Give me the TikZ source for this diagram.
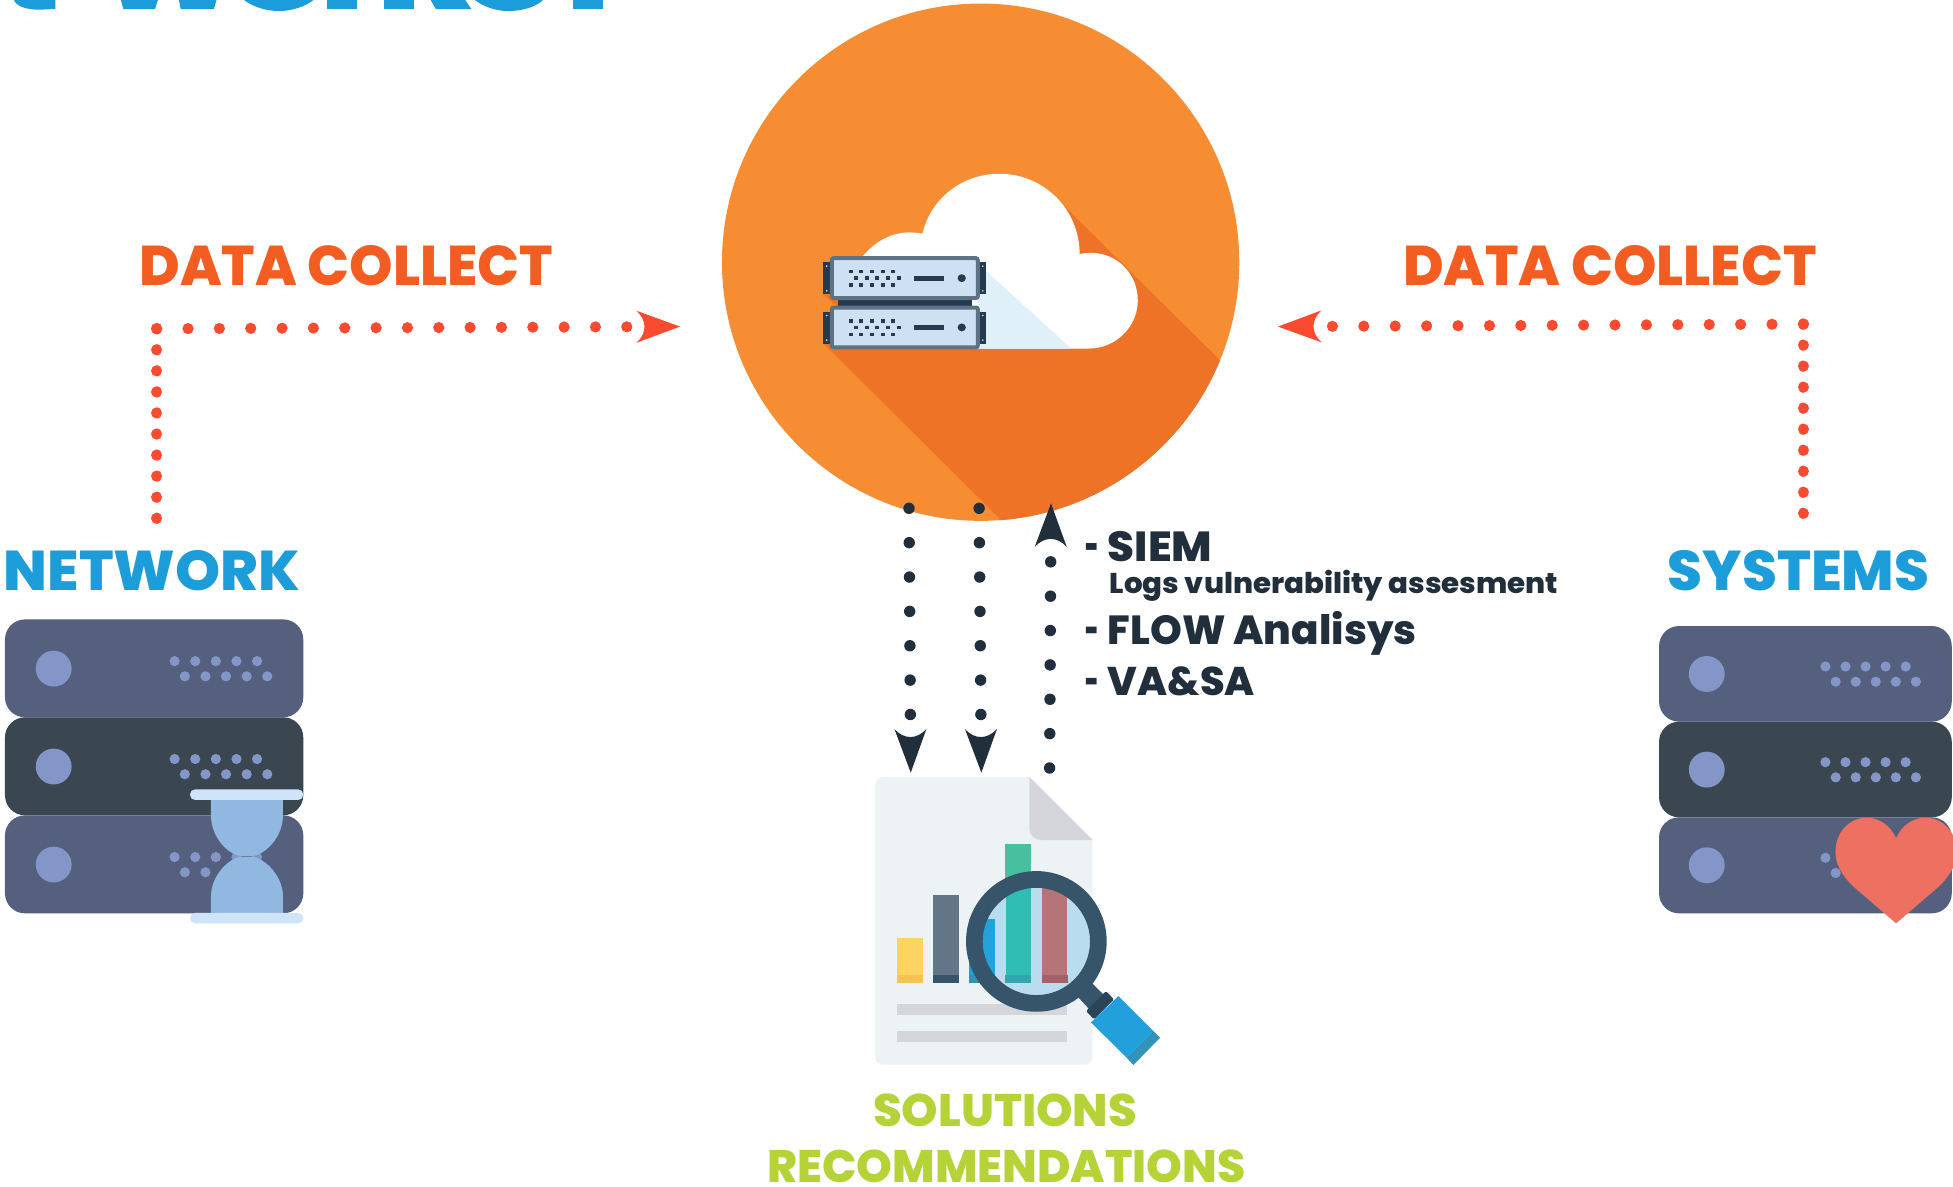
\documentclass[tikz,border=0pt]{standalone}
\usepackage{graphicx}
\usepackage{fontspec}
\setmainfont{Poppins}[UprightFont=* ExtraBold,BoldFont=* ExtraBold]
\usetikzlibrary{arrows.meta}
\definecolor{hubOrange}{HTML}{F78D33}
\definecolor{hubShadow}{HTML}{EF7326}
\definecolor{titleBlue}{HTML}{1C9CD8}
\definecolor{collectOrange}{HTML}{F45D22}
\definecolor{redDot}{HTML}{FA4A30}
\definecolor{inkDark}{HTML}{212F3D}
\definecolor{limeText}{HTML}{B5D336}
\definecolor{rackBlue}{HTML}{55607F}
\definecolor{rackDark}{HTML}{3A4650}
\definecolor{rackLed}{HTML}{8495C8}
\definecolor{plateFill}{HTML}{CEE1F2}
\definecolor{plateEdge}{HTML}{5D7285}
\definecolor{earDark}{HTML}{25394F}
\definecolor{skyTint}{HTML}{DFF0F9}
\definecolor{glassBar}{HTML}{CFE4F8}
\definecolor{glassBody}{HTML}{90B8E0}
\definecolor{heartRed}{HTML}{EE7060}
\definecolor{paper}{HTML}{EDF2F5}
\definecolor{foldGrey}{HTML}{D4D6DB}
\definecolor{ringBlue}{HTML}{36556B}
\definecolor{gripDark}{HTML}{2B4558}
\definecolor{gripBlue}{HTML}{22A0DC}
\definecolor{gripEnd}{HTML}{3193BC}
\definecolor{lensFill}{HTML}{B9DDEE}
\definecolor{barYellow}{HTML}{FDD362}
\definecolor{barYellowB}{HTML}{F7C352}
\definecolor{barSlate}{HTML}{627688}
\definecolor{barBlueB}{HTML}{2E92BC}
\definecolor{barGreen}{HTML}{47C0A0}
\definecolor{lensBlue}{HTML}{22A1DD}
\definecolor{lensTeal}{HTML}{30BDB3}
\definecolor{lensTealB}{HTML}{34A5AE}
\definecolor{lensRose}{HTML}{B57477}
\definecolor{lensRoseB}{HTML}{A56166}
\pgfdeclarearrow{
  name = NotchTip,
  parameters = {\the\pgfarrowlength,\the\pgfarrowwidth},
  setup code = {
    \pgfarrowssettipend{\pgfarrowlength}
    \pgfarrowssetlineend{.1\pgfarrowlength}
    \pgfarrowssetvisualbackend{.1\pgfarrowlength}
    \pgfarrowshullpoint{\pgfarrowlength}{0pt}
    \pgfarrowsupperhullpoint{0pt}{.5\pgfarrowwidth}
    \pgfarrowssavethe\pgfarrowlength
    \pgfarrowssavethe\pgfarrowwidth
  },
  drawing code = {
    \pgfpathmoveto{\pgfqpoint{\pgfarrowlength}{0pt}}
    \pgfpathlineto{\pgfqpoint{0pt}{.5\pgfarrowwidth}}
    \pgfpathcurveto{\pgfqpoint{.245\pgfarrowlength}{.2\pgfarrowwidth}}{\pgfqpoint{.245\pgfarrowlength}{-.2\pgfarrowwidth}}{\pgfqpoint{0pt}{-.5\pgfarrowwidth}}
    \pgfpathclose
    \pgfusepathqfill
  },
  defaults = {length=21.8pt,width=16pt}
}
\newcommand{\fitlabel}[3]{%
  \setbox0=\hbox{\fontsize{#2}{#2}\selectfont #3}%
  \pgfmathsetmacro{\fitratio}{#1*0.62277/\the\wd0}%
  \scalebox{\fitratio}[1]{\box0}}
\newcommand{\rackunit}[9]{%
  \begin{scope}[shift={(#1,#2)}]
    \fill[#5,rounded corners=10pt] (0,0) rectangle (#3,#4);
    \fill[rackLed] (#6,#7) circle (14.4);
    \foreach \i in {0,...,4} {
      \fill[rackLed] ({#8+\i*#9},{#7-6}) circle (4.1);
      \fill[rackLed] ({#8+8.2+\i*#9},{#7+6.2}) circle (4.1);
    }
  \end{scope}}
\tikzset{
  lbl/.style={anchor=base west,inner sep=0pt,outer sep=0pt},
  reddots/.style={draw=redDot,line width=5.6pt,line cap=round},
  darkdots/.style={draw=inkDark,line width=5.7pt,line cap=round,dash pattern=on 0.01pt off 17.17pt},
}
\begin{document}
\begin{tikzpicture}[x=0.62277pt,y=-0.62277pt]
\useasboundingbox (0,0) rectangle (1568,952.2);
\fill[white] (0,0) rectangle (1568,952.2);

% cut-off heading fragments at the top edge
\begin{scope}[xscale=.3175,yscale=.2676]
  \fill[titleBlue] (35,-2) .. controls (38,15) and (60,29) .. (100,29) -- (140,27) -- (140,-2) -- cycle;
  \fill[titleBlue] (305,-2) -- (400,-2) -- (392,27) -- (312,27) -- cycle;
  \fill[titleBlue] (452,-2) -- (548,-2) -- (541,27) -- (457,27) -- cycle;
  \fill[titleBlue] (615,-2) .. controls (640,22) and (675,33) .. (705,33) .. controls (735,33) and (770,22) .. (795,-2) -- cycle;
  \fill[titleBlue] (827,-2) rectangle (903,27);
  \fill[titleBlue] (971,-2) rectangle (1047,27);
  \fill[titleBlue] (1088,-2) -- (1175,-2) -- (1192,27) -- (1102,27) -- cycle;
  \fill[titleBlue] (1198,-2) .. controls (1225,22) and (1255,33) .. (1285,33) .. controls (1320,33) and (1355,22) .. (1375,-2) -- cycle;
  \fill[titleBlue] (1450,-2) rectangle (1526,27);
\end{scope}

% hub circle
\node[circle,fill=hubOrange,minimum size=258.65pt,inner sep=0pt] (hub) at (787.3,210.5) {};
\begin{scope}
  \clip (787.3,210.5) circle (207.7);
  \fill[hubShadow] (661,275.7) -- (802.3,416) -- (802.3,440) -- (1000,440) -- (1000,309.4) -- (854.4,165.4) -- cycle;
\end{scope}
\fill[white] (692.5,206) .. controls (702,194) and (716,186.6) .. (729.7,186.6)
  .. controls (733,186.6) and (737,187) .. (740.6,187.5)
  .. controls (747,160) and (772,139.5) .. (802.3,139.5)
  .. controls (838,139.5) and (866.8,168) .. (866.8,204)
  .. controls (869,203.3) and (873,203) .. (876,203)
  .. controls (897,203) and (913.5,220) .. (913.5,241.2)
  .. controls (913.5,262) and (896,279.8) .. (874.5,279.8)
  -- (680,279.8) -- cycle;
\fill[skyTint] (785,211) -- (791,217) -- (860,279.8) -- (785,279.8) -- cycle;
\fill[hubShadow] (660.6,236.3) -- (672.7,246) -- (672.7,236.3) -- cycle;

% small rack in the hub (coordinates of a 0.2867/0.2757 grid)
\begin{scope}[shift={(562,0)},xscale=.2867,yscale=.2757]
  \fill[earDark] (386,868) rectangle (762,896);
  \foreach \dy in {0,143.5} {
    \begin{scope}[shift={(0,\dy)}]
      \fill[earDark] (344,764) rectangle (365,857);
      \fill[earDark] (782,764) rectangle (801,857);
      \foreach \ex/\ey in {355/775,355/847,792/775,792/847}
        \fill[plateFill] (\ex,\ey) circle (2.6);
      \filldraw[fill=plateFill,draw=plateEdge,line width=2pt,rounded corners=1pt] (369,752) rectangle (778,868);
      \foreach \dx in {422,450,481,512,540} {
        \fill[earDark] ({\dx-5.5},785) rectangle ++(11,11);
        \fill[earDark] ({\dx-5.5},825) rectangle ++(11,11);
      }
      \foreach \dx in {436,467,495,526,557}
        \fill[earDark] ({\dx-5.5},805) rectangle ++(11,11);
      \fill[earDark] (599,803) rectangle (683,817);
      \fill[earDark] (733,810) circle (11.5);
    \end{scope}
  }
\end{scope}

% left rack
\rackunit{4}{497.3}{239.5}{78.6}{rackBlue}{39.1}{39.5}{136.2}{16.55}
\rackunit{4}{575.9}{239.5}{78.7}{rackDark}{39.1}{39.5}{136.2}{16.55}
\rackunit{4}{654.6}{239.5}{78.7}{rackBlue}{39.1}{39.5}{136.2}{16.55}
\begin{scope}[shift={(0,417.5)},scale=.2676]
  \fill[glassBody] (633,840) -- (633,885) .. controls (633,950) and (680,1000) .. (720,1008) -- (760,1008) .. controls (800,1000) and (849,950) .. (849,885) -- (849,840) -- cycle;
  \fill[glassBody] (633,1180) -- (633,1130) .. controls (633,1070) and (680,1020) .. (720,1010) -- (760,1010) .. controls (800,1020) and (849,1070) .. (849,1130) -- (849,1180) -- cycle;
  \fill[glassBar,rounded corners=2.6pt] (570,808) rectangle (910,840);
  \fill[glassBar,rounded corners=2.6pt] (570,1179) rectangle (910,1210);
\end{scope}

% right rack
\rackunit{1332}{502.6}{235}{76.8}{rackBlue}{38.3}{38.5}{133.6}{16.1}
\rackunit{1332}{579.4}{235}{76.8}{rackDark}{38.3}{38.5}{133.6}{16.1}
\rackunit{1332}{656.2}{235}{77.1}{rackBlue}{38.3}{38.5}{133.6}{16.1}
\fill[heartRed] (1522.3,741.3) -- (1488,711.8) .. controls (1478,702) and (1473.6,693) .. (1473.6,684)
  .. controls (1473.6,668) and (1485,656.5) .. (1498.8,656.5)
  .. controls (1509,656.5) and (1518,663) .. (1522.3,673)
  .. controls (1526.6,663) and (1535.6,656.5) .. (1545.8,656.5)
  .. controls (1559.6,656.5) and (1571,668) .. (1571,684)
  .. controls (1571,693) and (1566.6,702) .. (1556.6,711.8) -- cycle;

% report with magnifier
\begin{scope}[shift={(690.5,594.2)},scale=.2676]
  \fill[paper,rounded corners=4pt] (45,600) -- (45,111) [sharp corners] -- (508,111) -- (697,300) [rounded corners=4pt] -- (697,974) -- (45,974) -- cycle;
  \fill[foldGrey] (508,111) -- (697,300) -- (545,300) .. controls (525,300) and (508,285) .. (508,265) -- cycle;
  \fill[foldGrey] (111,792) rectangle (621,825);
  \fill[foldGrey] (111,873) rectangle (621,906);
  \fill[barYellow] (111,594) rectangle (189,705);
  \fill[barYellowB] (111,705) rectangle (189,728);
  \fill[barSlate] (219,465) rectangle (297,705);
  \fill[ringBlue] (219,705) rectangle (297,728);
  \fill[gripBlue] (327,538) rectangle (405,705);
  \fill[barBlueB] (327,705) rectangle (405,728);
  \fill[barGreen] (435,312) rectangle (513,460);
  \fill[ringBlue] (695,728) -- (730,763) -- (692,812) -- (655,772) -- cycle;
  \fill[gripDark,rounded corners=1pt] (738,753) -- (762,778) -- (702,838) -- (678,813) -- cycle;
  \fill[gripBlue] (775,768) -- (880,873) -- (800,953) -- (693,847) -- cycle;
  \fill[gripEnd] (880,873) -- (900,893) -- (820,975) -- (800,953) -- cycle;
  \fill[lensFill] (529,604) circle (165);
  \begin{scope}
    \clip (529,604) circle (165);
    \fill[lensBlue] (327,538) rectangle (405,705);
    \fill[barBlueB] (327,705) rectangle (405,728);
    \fill[lensTeal] (438,400) rectangle (513,705);
    \fill[lensTealB] (435,705) rectangle (513,728);
    \fill[lensRose] (546,400) rectangle (622,705);
    \fill[lensRoseB] (546,705) rectangle (624,728);
  \end{scope}
  \fill[ringBlue,even odd rule] (529,604) circle (211) (529,604) circle (161);
\end{scope}

% text
\node[lbl,text=collectOrange] (collectL) at (112,229) {\fitlabel{332}{28}{DATA COLLECT}};
\node[lbl,text=collectOrange] (collectR) at (1126.5,229) {\fitlabel{332}{28}{DATA COLLECT}};
\node[lbl,text=titleBlue] (network) at (3,473.7) {\fitlabel{238}{28}{NETWORK}};
\node[lbl,text=titleBlue] (systems) at (1339,473.7) {\fitlabel{210}{28}{SYSTEMS}};
\node[lbl,text=limeText] (solutions) at (701,904.5) {\fitlabel{212}{22.8}{SOLUTIONS}};
\node[lbl,text=limeText] (recommend) at (616,949) {\fitlabel{384}{22.8}{RECOMMENDATIONS}};
\node[lbl,text=inkDark] (siem) at (871.5,451) {\fitlabel{11}{21}{-}\hspace{4.3pt}\fitlabel{84}{21}{SIEM}};
\node[lbl,text=inkDark] (logs) at (891,476.4) {\fitlabel{360}{14.3}{Logs vulnerability assesment}};
\node[lbl,text=inkDark] (flow) at (871.5,517.3) {\fitlabel{11}{20.3}{-}\hspace{4.3pt}\fitlabel{248}{20.3}{FLOW Analisys}};
\node[lbl,text=inkDark] (vasa) at (871.5,558.2) {\fitlabel{11}{20}{-}\hspace{4.3pt}\fitlabel{118}{20}{VA\&SA}};

% connectors
\coordinate (leftFoot) at (125.8,416.8);
\coordinate (leftCorner) at (125.8,263.9);
\coordinate (leftTip) at (546,262.2);
\coordinate (rightFoot) at (1447.9,412.8);
\coordinate (rightCorner) at (1447.9,260.2);
\coordinate (rightTip) at (1026,262.2);
\coordinate (downAStart) at (729.8,408.1);
\coordinate (downATip) at (731.2,620.3);
\coordinate (downBStart) at (786.1,408.1);
\coordinate (downBTip) at (787.9,620.3);
\coordinate (upStart) at (842.7,616.6);
\coordinate (upTip) at (843.8,404.1);

\draw[reddots,dash pattern=on 0.01pt off 10.52pt] (leftCorner) -- (leftFoot);
\draw[reddots,dash pattern=on 0.01pt off 15.66pt,-{NotchTip[]}] (leftCorner) -- (leftTip);
\draw[reddots,dash pattern=on 0.01pt off 10.5pt] (rightCorner) -- (rightFoot);
\draw[reddots,dash pattern=on 0.01pt off 15.69pt,-{NotchTip[]}] (rightCorner) -- (rightTip);
\draw[darkdots,-{NotchTip[]}] (downAStart) -- (downATip);
\draw[darkdots,-{NotchTip[]}] (downBStart) -- (downBTip);
\draw[darkdots,-{NotchTip[]}] (upStart) -- (upTip);
\end{tikzpicture}
\end{document}
